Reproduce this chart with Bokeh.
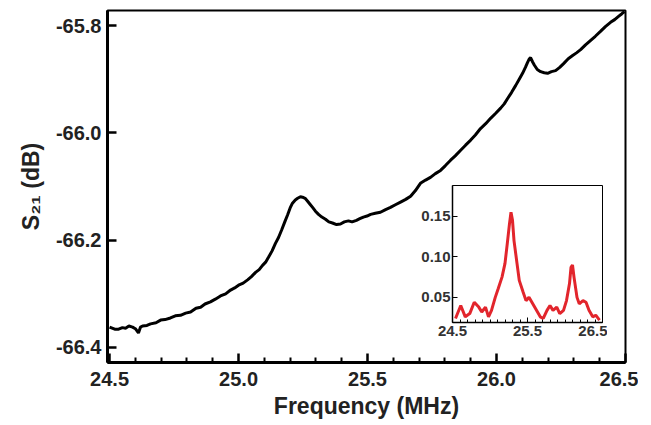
from bokeh.plotting import figure
from bokeh.models import Range1d, FixedTicker, NumeralTickFormatter
from bokeh.embed import file_html
from bokeh.resources import INLINE

# ---- main trace: S21 vs frequency ----
freq_mhz = [24.500, 24.520, 24.535, 24.550, 24.562, 24.575, 24.589, 24.600, 24.612, 24.620,
            24.628, 24.645, 24.659, 24.680, 24.698, 24.715, 24.736, 24.755, 24.775, 24.795,
            24.814, 24.835, 24.853, 24.870, 24.891, 24.910, 24.930, 24.950, 24.969, 24.985,
            25.000, 25.018, 25.035, 25.050, 25.066, 25.080, 25.093, 25.105, 25.116, 25.130,
            25.143, 25.155, 25.167, 25.180, 25.190, 25.200, 25.209, 25.220, 25.229, 25.240,
            25.248, 25.258, 25.267, 25.277, 25.287, 25.298, 25.310, 25.323, 25.337, 25.350,
            25.364, 25.380, 25.395, 25.410, 25.426, 25.440, 25.457, 25.470, 25.484, 25.498,
            25.512, 25.530, 25.550, 25.570, 25.589, 25.608, 25.628, 25.648, 25.667, 25.685,
            25.705, 25.725, 25.744, 25.763, 25.783, 25.802, 25.822, 25.840, 25.860, 25.880,
            25.899, 25.918, 25.938, 25.958, 25.977, 25.996, 26.016, 26.030, 26.043, 26.058,
            26.074, 26.088, 26.101, 26.112, 26.120, 26.127, 26.132, 26.140, 26.147, 26.158,
            26.171, 26.185, 26.198, 26.213, 26.229, 26.245, 26.260, 26.278, 26.295, 26.310,
            26.326, 26.345, 26.364, 26.383, 26.403, 26.422, 26.442, 26.458, 26.473, 26.486,
            26.496]
s21_db = [-66.362, -66.366, -66.366, -66.363, -66.364, -66.360, -66.362, -66.365, -66.373, -66.362,
          -66.360, -66.359, -66.356, -66.354, -66.349, -66.348, -66.345, -66.341, -66.340, -66.336,
          -66.334, -66.327, -66.325, -66.319, -66.315, -66.310, -66.304, -66.300, -66.293, -66.289,
          -66.284, -66.280, -66.274, -66.268, -66.260, -66.255, -66.247, -66.241, -66.232, -66.220,
          -66.206, -66.195, -66.181, -66.165, -66.153, -66.140, -66.131, -66.125, -66.122, -66.119,
          -66.120, -66.122, -66.127, -66.133, -66.139, -66.146, -66.152, -66.157, -66.161, -66.166,
          -66.168, -66.171, -66.170, -66.166, -66.164, -66.166, -66.163, -66.160, -66.157, -66.155,
          -66.152, -66.150, -66.148, -66.143, -66.139, -66.134, -66.129, -66.124, -66.118, -66.108,
          -66.094, -66.088, -66.083, -66.076, -66.070, -66.061, -66.051, -66.043, -66.033, -66.023,
          -66.014, -66.004, -65.992, -65.983, -65.973, -65.964, -65.954, -65.946, -65.936, -65.925,
          -65.912, -65.900, -65.889, -65.878, -65.869, -65.862, -65.860, -65.868, -65.874, -65.882,
          -65.886, -65.888, -65.889, -65.886, -65.884, -65.878, -65.871, -65.862, -65.856, -65.851,
          -65.845, -65.836, -65.828, -65.820, -65.811, -65.802, -65.794, -65.789, -65.783, -65.778,
          -65.774]

main_x_ticks = [24.5, 25.0, 25.5, 26.0, 26.5]
main_x_minor = [24.6, 24.7, 24.8, 24.9, 25.1, 25.2, 25.3, 25.4, 25.6, 25.7, 25.8, 25.9,
                26.1, 26.2, 26.3, 26.4]
main_y_ticks = [-66.4, -66.2, -66.0, -65.8]

# ---- inset trace ----
inset_freq = [24.54, 24.61, 24.67, 24.73, 24.79, 24.85, 24.89, 24.94, 24.98, 25.02,
              25.07, 25.11, 25.16, 25.20, 25.23, 25.26, 25.28, 25.30, 25.32, 25.36,
              25.39, 25.44, 25.48, 25.52, 25.57, 25.62, 25.67, 25.71, 25.76, 25.80,
              25.84, 25.89, 25.93, 25.98, 26.02, 26.06, 26.08, 26.10, 26.12, 26.16,
              26.19, 26.24, 26.28, 26.32, 26.37, 26.41, 26.46]
inset_amp = [0.024, 0.040, 0.026, 0.030, 0.044, 0.038, 0.032, 0.038, 0.026, 0.034,
             0.050, 0.061, 0.075, 0.092, 0.116, 0.141, 0.155, 0.145, 0.120, 0.092,
             0.071, 0.057, 0.046, 0.050, 0.042, 0.034, 0.026, 0.024, 0.034, 0.040,
             0.034, 0.038, 0.030, 0.034, 0.046, 0.067, 0.087, 0.090, 0.075, 0.050,
             0.042, 0.046, 0.044, 0.034, 0.026, 0.028, 0.022]

inset_x_ticks = [24.5, 25.5, 26.5]
inset_x_minor = [24.6, 24.7, 24.8, 24.9, 25.0, 25.1, 25.2, 25.3, 25.4, 25.6, 25.7, 25.8,
                 25.9, 26.0, 26.1, 26.2, 26.3, 26.4]
inset_y_ticks = [0.05, 0.10, 0.15]

FONT = "Liberation Sans"
TXT = "#222222"

p = figure(width=638, height=423, output_backend="svg", toolbar_location=None,
           x_range=Range1d(24.492, 26.5), y_range=Range1d(-66.428, -65.772),
           min_border_left=107, min_border_right=13, min_border_top=10, min_border_bottom=61)
p.line(freq_mhz, s21_db, line_color="black", line_width=3)

p.grid.visible = False
p.outline_line_color = "black"
p.outline_line_width = 2

p.xaxis.ticker = FixedTicker(ticks=main_x_ticks, minor_ticks=main_x_minor)
p.yaxis.ticker = FixedTicker(ticks=main_y_ticks)
p.xaxis.formatter = NumeralTickFormatter(format="0.0")
p.yaxis.formatter = NumeralTickFormatter(format="0.0")
for ax in (p.xaxis, p.yaxis):
    ax.axis_line_width = 3
    ax.major_tick_line_width = 2.5
    ax.minor_tick_line_width = 2
    ax.major_tick_in = 9
    ax.major_tick_out = 0
    ax.minor_tick_in = 5
    ax.minor_tick_out = 0
    ax.major_label_text_font = FONT
    ax.major_label_text_font_style = "bold"
    ax.major_label_text_font_size = "20px"
    ax.major_label_text_color = TXT
    ax.axis_label_text_font = FONT
    ax.axis_label_text_font_style = "bold"
    ax.axis_label_text_font_size = "23px"
    ax.axis_label_text_color = TXT
p.yaxis.minor_tick_line_color = None
p.xaxis.major_label_standoff = 9
p.yaxis.major_label_standoff = 6
p.xaxis.axis_label = "Frequency (MHz)"
p.yaxis.axis_label = "S\u2082\u2081 (dB)"
p.xaxis.axis_label_standoff = 4
p.yaxis.axis_label_standoff = 9

# ---- inset figure, placed over the main plot ----
q = figure(width=195, height=162, output_backend="svg", toolbar_location=None,
           x_range=Range1d(24.5, 26.5), y_range=Range1d(0.019, 0.188),
           min_border_left=40, min_border_right=5, min_border_top=0, min_border_bottom=25,
           styles={"position": "absolute", "left": "412px", "top": "185px", "z-index": "5"})
q.line(inset_freq, inset_amp, line_color="#e2252c", line_width=3)
q.grid.visible = False
q.outline_line_color = "black"
q.outline_line_width = 1
q.border_fill_alpha = 0
q.xaxis.ticker = FixedTicker(ticks=inset_x_ticks, minor_ticks=inset_x_minor)
q.yaxis.ticker = FixedTicker(ticks=inset_y_ticks)
q.xaxis.formatter = NumeralTickFormatter(format="0.0")
q.yaxis.formatter = NumeralTickFormatter(format="0.00")
for ax in (q.xaxis, q.yaxis):
    ax.axis_line_width = 1.5
    ax.major_tick_in = 5
    ax.major_tick_out = 0
    ax.minor_tick_in = 3
    ax.minor_tick_out = 0
    ax.major_label_text_font = FONT
    ax.major_label_text_font_style = "bold"
    ax.major_label_text_font_size = "15px"
    ax.major_label_text_color = "#333333"
q.yaxis.minor_tick_line_color = None
q.xaxis.major_label_standoff = 3
q.yaxis.major_label_standoff = 2

open("out.html", "w").write(file_html([p, q], INLINE))
